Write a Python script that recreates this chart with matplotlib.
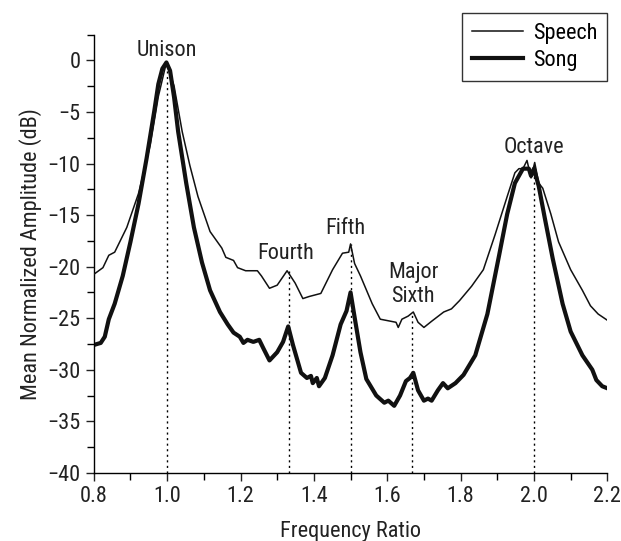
import matplotlib
matplotlib.use("Agg")
import matplotlib.pyplot as plt
from matplotlib.ticker import MultipleLocator
from matplotlib import font_manager

fams = set(f.name for f in font_manager.fontManager.ttflist)
main_font = 'Liberation Sans'
for cand in ['Liberation Sans Narrow', 'Nimbus Sans Narrow', 'Arial Narrow',
             'Roboto Condensed', 'Archivo Narrow', 'Liberation Sans']:
    if cand in fams:
        main_font = cand
        break
plt.rcParams['font.family'] = [main_font, 'DejaVu Sans']

speech_x = [0.800, 0.825, 0.841, 0.857, 0.890, 0.922, 0.954, 0.976, 0.998, 1.019, 1.041, 1.062,
            1.084, 1.117, 1.149, 1.160, 1.181, 1.192, 1.214, 1.246, 1.257, 1.279, 1.300, 1.327,
            1.349, 1.370, 1.387, 1.419, 1.451, 1.478, 1.495, 1.500, 1.511, 1.527, 1.559, 1.581,
            1.624, 1.630, 1.640, 1.657, 1.671, 1.684, 1.700, 1.721, 1.754, 1.775, 1.797, 1.830,
            1.862, 1.894, 1.927, 1.948, 1.959, 1.970, 1.981, 1.992, 2.002, 2.013, 2.024, 2.046,
            2.067, 2.100, 2.132, 2.154, 2.175, 2.200]
speech_y = [-20.75, -20.1, -18.9, -18.6, -16.2, -12.9, -8.2, -3.5, -0.2, -2.5, -6.9, -10.2,
            -13.2, -16.6, -18.2, -19.1, -19.4, -20.1, -20.4, -20.4, -20.9, -22.1, -21.8, -20.4,
            -21.6, -23.1, -22.9, -22.6, -20.3, -18.7, -18.6, -17.8, -19.7, -20.9, -23.6, -25.1,
            -25.4, -25.9, -25.1, -24.8, -24.4, -25.4, -25.9, -25.3, -24.4, -24.1, -23.3, -21.9,
            -20.3, -16.9, -13.2, -10.9, -10.5, -10.5, -9.7, -11.4, -9.9, -11.9, -12.4, -14.9,
            -17.6, -20.3, -22.3, -23.8, -24.6, -25.2]

song_x = [0.800, 0.819, 0.830, 0.841, 0.857, 0.879, 0.900, 0.922, 0.944, 0.965, 0.976, 0.987,
          0.998, 1.008, 1.019, 1.030, 1.052, 1.073, 1.095, 1.117, 1.144, 1.165, 1.181, 1.198,
          1.208, 1.219, 1.235, 1.251, 1.262, 1.279, 1.300, 1.316, 1.330, 1.343, 1.365, 1.381,
          1.392, 1.397, 1.408, 1.414, 1.430, 1.451, 1.473, 1.489, 1.500, 1.511, 1.527, 1.543,
          1.570, 1.592, 1.603, 1.619, 1.635, 1.651, 1.662, 1.671, 1.684, 1.700, 1.711, 1.721,
          1.738, 1.752, 1.765, 1.786, 1.808, 1.840, 1.873, 1.905, 1.927, 1.948, 1.970, 1.986,
          1.992, 2.000, 2.013, 2.029, 2.051, 2.078, 2.100, 2.132, 2.159, 2.170, 2.186, 2.200]
song_y = [-27.6, -27.4, -26.8, -25.1, -23.6, -20.9, -17.6, -13.9, -9.5, -4.9, -2.3, -0.8,
          -0.2, -1.0, -3.6, -6.9, -11.9, -16.2, -19.6, -22.3, -24.4, -25.6, -26.4, -26.8,
          -27.4, -27.1, -27.3, -27.1, -27.9, -29.1, -28.3, -27.3, -25.8, -27.6, -30.3, -30.8,
          -30.6, -31.3, -30.8, -31.6, -30.8, -28.6, -25.6, -24.3, -22.5, -24.9, -28.3, -30.9,
          -32.5, -33.2, -33.0, -33.5, -32.5, -31.1, -30.8, -30.3, -32.0, -33.0, -32.8, -33.0,
          -32.0, -31.3, -31.8, -31.3, -30.5, -28.6, -24.6, -18.9, -14.9, -11.9, -10.5, -10.5,
          -11.2, -10.5, -12.2, -15.2, -19.2, -23.6, -26.3, -28.6, -30.0, -31.0, -31.6, -31.8]

interval_x = [1.0, 4/3, 1.5, 5/3, 2.0]
interval_top = [-0.2, -20.4, -17.8, -24.4, -9.9]
label_names = ["Unison", "Fourth", "Fifth", "Major\nSixth", "Octave"]
label_x = [1.0, 1.324, 1.486, 1.671, 2.0]
label_y = [1.0, -18.7, -16.3, -21.7, -8.4]

FS = 16

fig = plt.figure(figsize=(6.21, 5.41), dpi=100)
ax = fig.add_axes([0.151, 0.126, 0.827, 0.810])

for xv, top in zip(interval_x, interval_top):
    ax.plot([xv, xv], [-40, top], color='black', lw=1.0, linestyle=(0, (1.5, 2.5)), zorder=1)

ax.plot(speech_x, speech_y, color='#111111', lw=1.1, label='Speech', zorder=3)
ax.plot(song_x, song_y, color='#111111', lw=3.0, label='Song', zorder=2,
        solid_joinstyle='round')

for name, lx, ly in zip(label_names, label_x, label_y):
    ax.text(lx, ly, name, ha='center', va='center', fontsize=FS, color='#222222',
            linespacing=1.2)

ax.set_xlim(0.8, 2.2)
ax.set_ylim(-40, 2.5)
ax.set_xticks([0.8, 1.0, 1.2, 1.4, 1.6, 1.8, 2.0, 2.2])
ax.set_xticklabels(['0.8', '1.0', '1.2', '1.4', '1.6', '1.8', '2.0', '2.2'])
ax.set_yticks([0, -5, -10, -15, -20, -25, -30, -35, -40])
ax.set_yticklabels(['0', '\u22125', '\u221210', '\u221215', '\u221220', '\u221225',
                    '\u221230', '\u221235', '\u221240'])
ax.xaxis.set_minor_locator(MultipleLocator(0.1))
ax.yaxis.set_minor_locator(MultipleLocator(2.5))
ax.tick_params(which='major', direction='out', length=6, width=1, labelsize=FS,
               colors='#222222')
ax.tick_params(which='minor', direction='out', length=5, width=1)
for s in ['top', 'right']:
    ax.spines[s].set_visible(False)
for s in ['left', 'bottom']:
    ax.spines[s].set_linewidth(1.0)

ax.set_xlabel('Frequency Ratio', fontsize=FS, color='#222222', labelpad=10)
ax.set_ylabel('Mean Normalized Amplitude (dB)', fontsize=FS, color='#222222', labelpad=4)

leg = ax.legend(loc='upper right', bbox_to_anchor=(0.978, 0.976),
                bbox_transform=fig.transFigure, fontsize=FS, frameon=True,
                fancybox=False, handlelength=2.3, borderpad=0.45, labelspacing=0.25,
                handletextpad=0.45, borderaxespad=0)
leg.get_frame().set_edgecolor('black')
leg.get_frame().set_linewidth(1.0)

fig.savefig('out.png', dpi=100)
